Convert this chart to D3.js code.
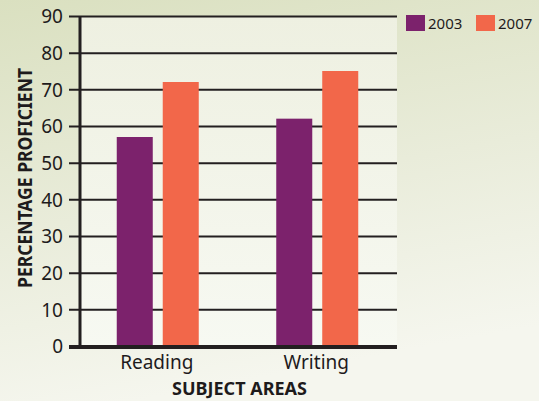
<!DOCTYPE html>
<html><head><meta charset="utf-8">
<script src="https://cdn.jsdelivr.net/npm/d3@7"></script>
<style>html,body{margin:0;padding:0;overflow:hidden;}svg{display:block;}</style>
</head><body>
<script>
const categories = ["Reading", "Writing"];
const seriesNames = ["2003", "2007"];
const values2003 = [57, 62];
const values2007 = [72, 75];
const yTicks = [0, 10, 20, 30, 40, 50, 60, 70, 80, 90];
const colors = ["#7c226c", "#f2674a"];

(function () {
const W = 539, H = 401;
const svg = d3.select("body").append("svg").attr("width", W).attr("height", H);
const defs = svg.append("defs");
const bg = defs.append("linearGradient").attr("id", "bg").attr("x1", 0).attr("y1", 0).attr("x2", 0.25).attr("y2", 1);
bg.append("stop").attr("offset", "0").attr("stop-color", "#dae0c0");
bg.append("stop").attr("offset", "0.55").attr("stop-color", "#e9ecda");
bg.append("stop").attr("offset", "1").attr("stop-color", "#f5f6ee");
const pg = defs.append("linearGradient").attr("id", "pg").attr("x1", 0).attr("y1", 0).attr("x2", 0).attr("y2", 1);
pg.append("stop").attr("offset", "0").attr("stop-color", "#eef0e1");
pg.append("stop").attr("offset", "1").attr("stop-color", "#f7f9f2");

svg.append("rect").attr("width", W).attr("height", H).attr("fill", "url(#bg)");

const pLeft = 80, pRight = 397, pTop = 16, pBottom = 346;
const y = d3.scaleLinear().domain([0, 90]).range([pBottom, pTop]);
const x0 = d3.scaleBand().domain(categories).range([78, pRight]).padding(0);
const x1 = d3.scaleBand().domain(seriesNames).range([-41, 41]).paddingInner(0.217).paddingOuter(0);

svg.append("rect").attr("x", pLeft).attr("y", pTop).attr("width", pRight - pLeft).attr("height", pBottom - pTop).attr("fill", "url(#pg)");

const font = "'Noto Sans', 'Open Sans', sans-serif";

// y axis with gridlines
const yAxis = svg.append("g").attr("transform", `translate(${pRight},0)`)
  .call(d3.axisLeft(y).tickValues(yTicks).tickSize(pRight - 69).tickPadding(6));
yAxis.select(".domain").remove();
yAxis.selectAll(".tick line").attr("stroke", "#231f20").attr("stroke-width", 2);
yAxis.selectAll(".tick text").attr("font-family", font).attr("font-size", 19).attr("fill", "#1e1b1c").attr("dy", "0.36em");

// bars
const data = categories.map((c, i) => ({ cat: c, vals: [values2003[i], values2007[i]] }));
const groups = svg.append("g").selectAll("g").data(data).join("g")
  .attr("transform", d => `translate(${x0(d.cat) + x0.bandwidth() / 2},0)`);
groups.selectAll("rect").data(d => d.vals.map((v, j) => ({ s: seriesNames[j], v, j })))
  .join("rect")
  .attr("x", d => x1(d.s)).attr("width", x1.bandwidth())
  .attr("y", d => y(d.v)).attr("height", d => y(0) - y(d.v))
  .attr("fill", d => colors[d.j]);

// axes lines
svg.append("line").attr("x1", pLeft).attr("x2", pLeft).attr("y1", pTop).attr("y2", pBottom + 2)
  .attr("stroke", "#231f20").attr("stroke-width", 3);
svg.append("line").attr("x1", 69).attr("x2", pRight).attr("y1", pBottom + 1).attr("y2", pBottom + 1)
  .attr("stroke", "#231f20").attr("stroke-width", 4);

// x axis labels
const xAxis = svg.append("g").attr("transform", `translate(0,${pBottom + 3})`)
  .call(d3.axisBottom(x0).tickSize(0).tickPadding(6));
xAxis.select(".domain").remove();
xAxis.selectAll(".tick text").attr("font-family", font).attr("font-size", 19).attr("fill", "#1e1b1c")
  .attr("transform", "translate(-1,0)");

// axis titles
svg.append("text").attr("x", 239.5).attr("y", 395).attr("text-anchor", "middle")
  .attr("font-family", font).attr("font-weight", "bold").attr("font-size", 18).attr("fill", "#1e1b1c")
  .attr("textLength", 135).attr("lengthAdjust", "spacingAndGlyphs")
  .text("SUBJECT AREAS");
svg.append("text").attr("transform", `translate(31.5,178) rotate(-90)`).attr("text-anchor", "middle")
  .attr("font-family", font).attr("font-weight", "bold").attr("font-size", 19).attr("fill", "#1e1b1c")
  .attr("textLength", 220).attr("lengthAdjust", "spacingAndGlyphs")
  .text("PERCENTAGE PROFICIENT");

// legend
const legend = svg.append("g").selectAll("g").data(seriesNames).join("g")
  .attr("transform", (d, i) => `translate(${406 + i * 70},15)`);
legend.append("rect").attr("width", 19).attr("height", 16).attr("fill", (d, i) => colors[i]);
legend.append("text").attr("x", 22).attr("y", 13.5).attr("font-family", font).attr("font-size", 15)
  .attr("fill", "#1e1b1c").text(d => d);
})();
</script>
</body></html>
